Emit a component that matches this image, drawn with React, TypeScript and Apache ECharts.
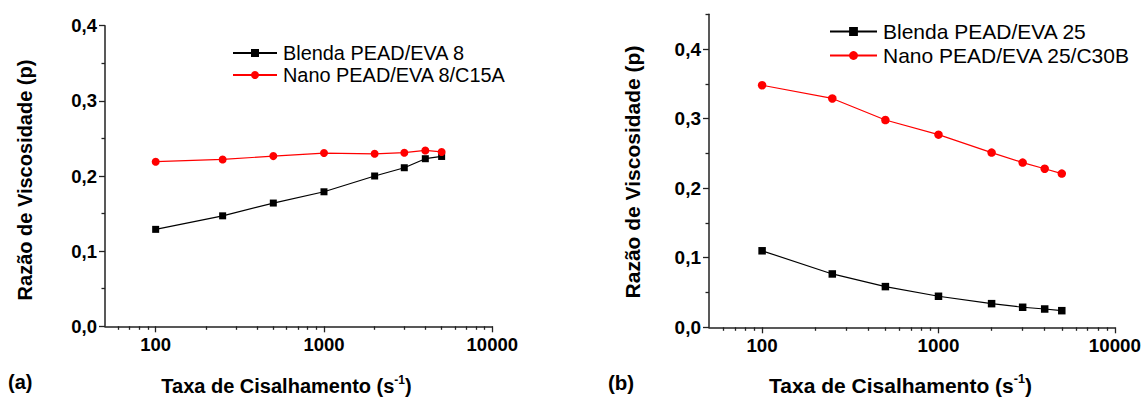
import React, { useEffect, useRef } from 'react';
import * as echarts from 'echarts';

const shearRates = [100, 250, 500, 1000, 2000, 3000, 4000, 5000];
const blenda8 = [0.129, 0.147, 0.164, 0.179, 0.2, 0.211, 0.223, 0.226];
const nano8 = [0.219, 0.222, 0.2265, 0.2305, 0.2295, 0.231, 0.234, 0.232];
const blenda25 = [0.11, 0.0767, 0.0585, 0.0446, 0.034, 0.0288, 0.0263, 0.0239];
const nano25 = [0.348, 0.329, 0.298, 0.277, 0.2512, 0.2368, 0.228, 0.221];

const seriesNames = ['Blenda PEAD/EVA 8', 'Nano PEAD/EVA 8/C15A', 'Blenda PEAD/EVA 25', 'Nano PEAD/EVA 25/C30B'];
const xMajorTicks = [100, 1000, 10000];
const xMinorTicks = [60, 70, 80, 90, 200, 300, 400, 500, 600, 700, 800, 900, 2000, 3000, 4000, 5000, 6000, 7000, 8000, 9000];
const yMajorTicks = [0, 0.1, 0.2, 0.3, 0.4];
const yMinorTicksA = [0.05, 0.15, 0.25, 0.35];
const yMinorTicksB = [0.05, 0.15, 0.25, 0.35, 0.45];
const xTitle = ['Taxa de Cisalhamento (s', '-1', ')'];
const yTitle = 'Razão de Viscosidade (p)';
const panelLabels = ['(a)', '(b)'];

const FONT = 'Liberation Sans, Arial, sans-serif';
const AXIS_COLOR = '#222';

function pairs(ys: number[]) {
  return shearRates.map((x, i) => [x, ys[i]]);
}

export default function App() {
  const ref = useRef<HTMLDivElement>(null);
  useEffect(() => {
    if (!ref.current) return;
    const chart = echarts.init(ref.current, null, { renderer: 'svg' });

    const xMajor = (grid: number, fs: number) => ({
      type: 'log',
      gridIndex: grid,
      min: 50,
      max: 10000,
      logBase: 10,
      axisLine: { show: true, lineStyle: { color: AXIS_COLOR, width: 1.5 } },
      axisTick: { show: true, length: 6, inside: false, customValues: xMajorTicks, lineStyle: { color: AXIS_COLOR, width: 1.3 } },
      axisLabel: {
        show: true,
        customValues: xMajorTicks,
        margin: 9,
        fontFamily: FONT,
        fontWeight: 'bold',
        fontSize: fs,
        color: '#000',
        formatter: (v: number) => String(Math.round(v)),
      },
      splitLine: { show: false },
    });
    const xMinor = (grid: number) => ({
      type: 'log',
      gridIndex: grid,
      min: 50,
      max: 10000,
      logBase: 10,
      position: 'bottom',
      axisLine: { show: false },
      axisTick: { show: true, length: 3.5, inside: false, customValues: xMinorTicks, lineStyle: { color: AXIS_COLOR, width: 1.3 } },
      axisLabel: { show: false },
      splitLine: { show: false },
    });
    const yMajor = (grid: number, max: number, fs: number) => ({
      type: 'value',
      gridIndex: grid,
      min: 0,
      max,
      interval: 0.1,
      position: 'left',
      axisLine: { show: true, lineStyle: { color: AXIS_COLOR, width: 1.5 } },
      axisTick: { show: true, length: 6, inside: false, customValues: yMajorTicks, lineStyle: { color: AXIS_COLOR, width: 1.3 } },
      axisLabel: {
        show: true,
        customValues: yMajorTicks,
        margin: 8,
        fontFamily: FONT,
        fontWeight: 'bold',
        fontSize: fs,
        color: '#000',
        formatter: (v: number) => v.toFixed(1).replace('.', ','),
      },
      splitLine: { show: false },
    });
    const yMinor = (grid: number, max: number, ticks: number[]) => ({
      type: 'value',
      gridIndex: grid,
      min: 0,
      max,
      interval: 0.05,
      position: 'left',
      offset: 0,
      axisLine: { show: false },
      axisTick: { show: true, length: 3.5, inside: false, customValues: ticks, lineStyle: { color: AXIS_COLOR, width: 1.3 } },
      axisLabel: { show: false },
      splitLine: { show: false },
    });

    const lineSeries = (name: string, data: number[], xi: number, yi: number, color: string, symbol: string, size: number) => ({
      type: 'line',
      name,
      xAxisIndex: xi,
      yAxisIndex: yi,
      data: pairs(data),
      symbol,
      symbolSize: size,
      showAllSymbol: true,
      lineStyle: { color, width: 1.2 },
      itemStyle: { color },
      z: symbol === 'circle' ? 3 : 2,
    });

    const xTitleText = (x: number, y: number, fs: number) => ({
      type: 'text',
      x,
      y,
      style: {
        text: `{n|${xTitle[0]}}{s|${xTitle[1]}}{n|${xTitle[2]}}`,
        align: 'center',
        verticalAlign: 'middle',
        rich: {
          n: { fontFamily: FONT, fontWeight: 'bold', fontSize: fs, fill: '#000', lineHeight: fs * 1.1, verticalAlign: 'bottom' },
          s: { fontFamily: FONT, fontWeight: 'bold', fontSize: fs * 0.6, fill: '#000', verticalAlign: 'top', lineHeight: fs * 1.1 },
        },
      },
    });
    const yTitleText = (x: number, y: number, fs: number) => ({
      type: 'text',
      x,
      y,
      rotation: Math.PI / 2,
      style: {
        text: yTitle,
        align: 'center',
        verticalAlign: 'middle',
        fontFamily: FONT,
        fontWeight: 'bold',
        fontSize: fs,
        fill: '#000',
      },
    });
    const panelText = (x: number, y: number, t: string, fs: number) => ({
      type: 'text',
      x,
      y,
      style: { text: t, align: 'left', verticalAlign: 'middle', fontFamily: FONT, fontWeight: 'bold', fontSize: fs, fill: '#000' },
    });

    chart.setOption({
      animation: false,
      backgroundColor: '#fff',
      grid: [
        { left: 105, top: 25.7, width: 387.3, height: 300.6, containLabel: false },
        { left: 709, top: 14.3, width: 408.7, height: 313, containLabel: false },
      ],
      xAxis: [xMajor(0, 18.5), xMinor(0), xMajor(1, 18.8), xMinor(1)],
      yAxis: [yMajor(0, 0.4, 18.5), yMinor(0, 0.4, yMinorTicksA), yMajor(1, 0.45, 19), yMinor(1, 0.45, yMinorTicksB)],
      legend: [
        {
          orient: 'vertical',
          left: 227,
          top: 38,
          itemWidth: 44,
          itemHeight: 10,
          itemGap: 2,
          data: [seriesNames[0], seriesNames[1]],
          textStyle: { fontFamily: FONT, fontSize: 19.9, color: '#000', padding: [0, 0, 0, 1] },
        },
        {
          orient: 'vertical',
          left: 824,
          top: 16,
          itemWidth: 47,
          itemHeight: 11,
          itemGap: 3,
          data: [seriesNames[2], seriesNames[3]],
          textStyle: { fontFamily: FONT, fontSize: 21, color: '#000', padding: [0, 0, 0, 1] },
        },
      ],
      series: [
        lineSeries(seriesNames[0], blenda8, 0, 0, '#000', 'rect', 7),
        lineSeries(seriesNames[1], nano8, 0, 0, '#ff0000', 'circle', 8),
        lineSeries(seriesNames[2], blenda25, 2, 2, '#000', 'rect', 7.5),
        lineSeries(seriesNames[3], nano25, 2, 2, '#ff0000', 'circle', 8.5),
      ],
      graphic: [
        xTitleText(286.5, 385, 20),
        xTitleText(900.5, 384, 21),
        yTitleText(25, 180, 20),
        yTitleText(632, 172, 21),
        panelText(8, 382, panelLabels[0], 20),
        panelText(608, 382, panelLabels[1], 20.5),
      ],
    });
    return () => chart.dispose();
  }, []);
  return <div ref={ref} style={{ position: 'fixed', left: 0, top: 0, width: 1144, height: 397, background: '#fff' }} />;
}
